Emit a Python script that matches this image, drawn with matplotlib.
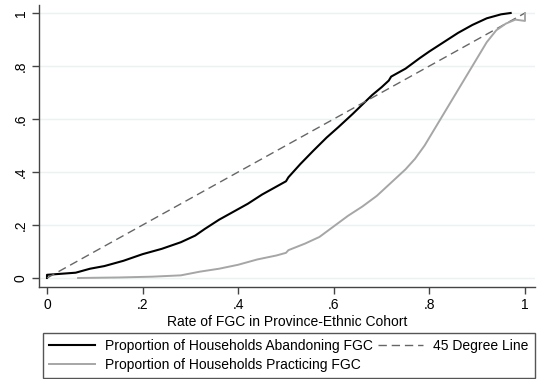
import matplotlib
matplotlib.use("Agg")
import matplotlib.pyplot as plt
from matplotlib.ticker import FuncFormatter

plt.rcParams['font.family'] = ['Liberation Sans', 'DejaVu Sans']

# cumulative share of households vs. cohort FGC rate
abandon_x = [0.0, 0.0, 0.03, 0.06, 0.09, 0.12, 0.16, 0.20, 0.24, 0.28, 0.31, 0.33,
             0.36, 0.39, 0.42, 0.45, 0.48, 0.50, 0.505, 0.53, 0.557, 0.585, 0.61,
             0.64, 0.66, 0.68, 0.70, 0.715, 0.72, 0.75, 0.78, 0.80, 0.83, 0.86,
             0.89, 0.92, 0.95, 0.97]
abandon_y = [0.0, 0.012, 0.016, 0.02, 0.035, 0.045, 0.065, 0.09, 0.11, 0.135, 0.16,
             0.185, 0.22, 0.25, 0.28, 0.315, 0.345, 0.365, 0.38, 0.43, 0.48, 0.53,
             0.57, 0.62, 0.655, 0.69, 0.72, 0.745, 0.76, 0.79, 0.83, 0.855, 0.89,
             0.925, 0.955, 0.98, 0.995, 1.0]

practice_x = [0.065, 0.15, 0.22, 0.28, 0.32, 0.36, 0.40, 0.44, 0.48, 0.50, 0.505,
              0.54, 0.57, 0.60, 0.63, 0.66, 0.69, 0.72, 0.75, 0.77, 0.79, 0.81,
              0.83, 0.85, 0.87, 0.88, 0.90, 0.92, 0.94, 0.96, 0.98, 1.0, 1.0]
practice_y = [0.0, 0.002, 0.005, 0.01, 0.024, 0.035, 0.05, 0.07, 0.085, 0.095, 0.105,
              0.13, 0.155, 0.195, 0.235, 0.27, 0.31, 0.36, 0.41, 0.45, 0.5, 0.56,
              0.62, 0.68, 0.74, 0.77, 0.83, 0.89, 0.935, 0.96, 0.975, 0.97, 1.0]

diag = [0, 1]
ticks = [0, 0.2, 0.4, 0.6, 0.8, 1.0]

fig = plt.figure(figsize=(5.41, 3.79), dpi=100)
ax = fig.add_axes([39 / 541, 1 - 287 / 379, 496 / 541, 282 / 379])

for t in ticks:
    ax.axhline(t, color='#eaf2f3', lw=1.0, zorder=0)

l1, = ax.plot(abandon_x, abandon_y, color='black', lw=1.5,
              label='Proportion of Households Abandoning FGC')
l3, = ax.plot(diag, diag, color='#666666', lw=1.0, dashes=(6, 3.5),
              label='45 Degree Line')
l2, = ax.plot(practice_x, practice_y, color='#a6a6a6', lw=1.4,
              label='Proportion of Households Practicing FGC')

ax.set_xlim(-8 / 478, 1 + 10 / 478)
ax.set_ylim(-9 / 265, 1 + 8 / 265)

fmt = FuncFormatter(lambda v, p: '0' if v == 0 else ('1' if v == 1 else ('%.1f' % v).lstrip('0')))
ax.set_xticks(ticks)
ax.set_yticks(ticks)
ax.xaxis.set_major_formatter(fmt)
ax.yaxis.set_major_formatter(fmt)
ax.tick_params(labelsize=10, length=5, width=1, color='#444444', pad=3)
for lab in ax.get_yticklabels():
    lab.set_rotation(90)
    lab.set_va('center')

for side in ['top', 'right']:
    ax.spines[side].set_visible(False)
for side in ['left', 'bottom']:
    ax.spines[side].set_color('#444444')
    ax.spines[side].set_linewidth(1)

ax.set_xlabel('Rate of FGC in Province-Ethnic Cohort', fontsize=10, labelpad=2)

leg = fig.legend(handles=[l1, l2, l3], loc='upper left',
                 bbox_to_anchor=(43 / 541, 1 - 333 / 379), ncol=2,
                 fontsize=10, frameon=True, fancybox=False, framealpha=1,
                 edgecolor='#555555', borderpad=0.45, labelspacing=0.35,
                 handlelength=3.3, handletextpad=0.7, columnspacing=0.35,
                 borderaxespad=0)
leg.get_frame().set_linewidth(1)

fig.savefig('out.png', dpi=100)
